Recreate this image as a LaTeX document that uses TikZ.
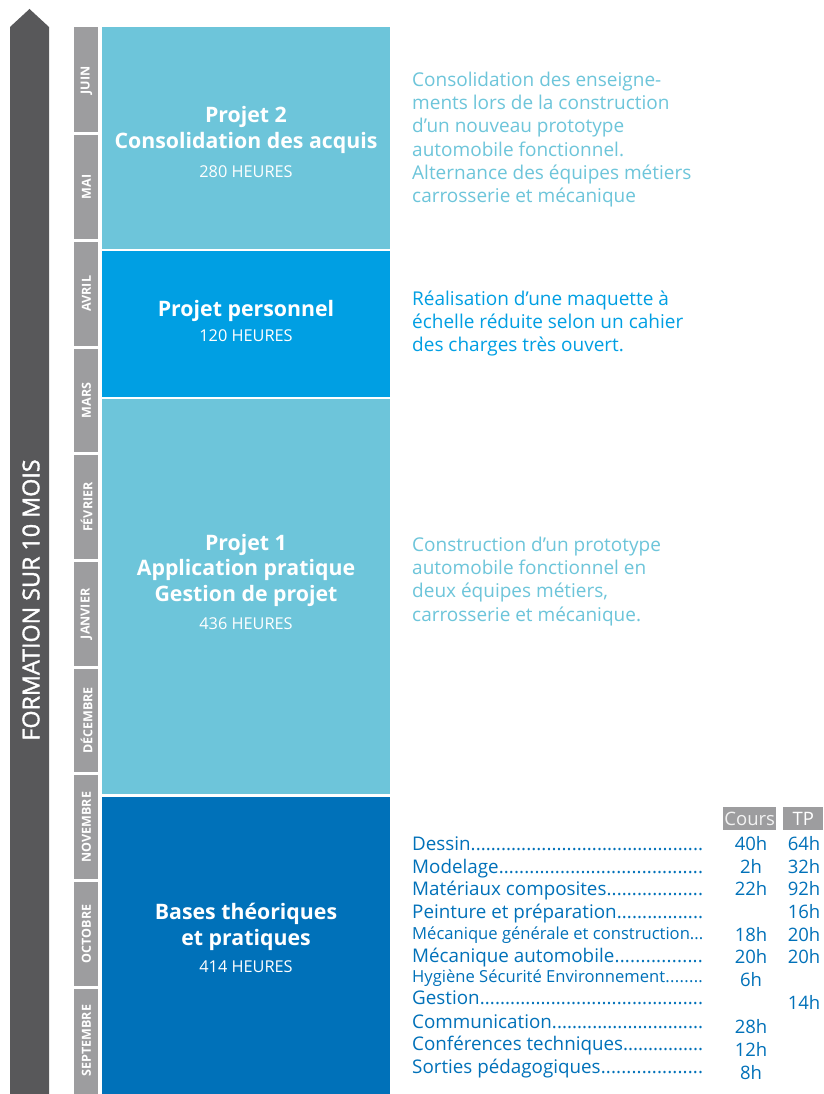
\documentclass[tikz,border=0pt]{standalone}
\usepackage{fontspec}
\usepackage{graphicx}
\setmainfont{Open Sans}
\newfontfamily\formfont[FakeBold=1.6]{Open Sans}
\definecolor{arrowgray}{HTML}{58585A}
\definecolor{monthgray}{HTML}{9D9D9F}
\definecolor{lightblue}{HTML}{6DC5DA}
\definecolor{midblue}{HTML}{009FE3}
\definecolor{darkblue}{HTML}{0071B9}
\definecolor{headtext}{HTML}{F2F2F2}
\newcommand\leaddots{\xleaders\hbox{.}\hfill}
\newcommand\rowlabel[1]{\makebox[291pt][l]{#1\leaddots}}
\newcommand\topstrut{\rule{0pt}{18pt}}
\begin{document}
\begin{tikzpicture}[x=1pt,y=-1pt,
  monthlbl/.style={rotate=90, text=white, inner sep=0, font=\fontsize{12.5}{13}\selectfont\bfseries},
  phase/.style={inner sep=0, outer sep=0, anchor=north west, minimum width=288pt},
  ttl/.style={text=white, inner sep=0, anchor=base, font=\fontsize{21.3}{24}\selectfont\bfseries},
  hrs/.style={text=white, inner sep=0, anchor=base, font=\fontsize{16.3}{18}\selectfont},
  desc/.style={anchor=north west, inner sep=0, align=left, font=\fontsize{19}{23.3}\selectfont},
  row/.style={anchor=base west, inner sep=0, text=darkblue, font=\fontsize{18.8}{20}\selectfont},
  rowsm/.style={row, font=\fontsize{16.6}{17}\selectfont},
  num/.style={anchor=base, inner sep=0, text=darkblue, font=\fontsize{18.5}{20}\selectfont},
  head/.style={fill=monthgray, inner sep=0, anchor=north west, minimum height=23pt, text=headtext, font=\fontsize{18.5}{20}\selectfont}
]
\fill[white] (0,0) rectangle (823,1094);
\useasboundingbox (0,0) rectangle (823,1094);

% timeline arrow
\fill[arrowgray] (10,1094) -- (10,27) -- (29.5,9) -- (49,27) -- (49,1094) -- cycle;
\node[rotate=90, text=white, inner sep=0, font=\formfont\fontsize{23.3}{26}\selectfont] (formation) at (31,600) {FORMATION SUR 10 MOIS};

% months
\fill[monthgray] (74,27) rectangle (98,1094);
\foreach \i in {1,...,9} {
  \draw[white, line width=3pt] (73,{27+\i*106.7}) -- (99,{27+\i*106.7});
}
\foreach \m [count=\i from 0] in {JUIN,MAI,AVRIL,MARS,FÉVRIER,JANVIER,DÉCEMBRE,NOVEMBRE,OCTOBRE,SEPTEMBRE} {
  \node[monthlbl] (m\i) at (86.5,{27+(\i+0.5)*106.7}) {\m};
}

% phase boxes
\node[phase, fill=lightblue, minimum height=222pt] (p2) at (102,27) {};
\node[phase, fill=midblue, minimum height=146pt] (pp) at (102,251) {};
\node[phase, fill=lightblue, minimum height=395pt] (p1) at (102,399) {};
\node[phase, fill=darkblue, minimum height=297pt] (pb) at (102,797) {};

% titles
\node[ttl] (p2a) at (246,122.3) {Projet 2};
\node[ttl] (p2b) at (246,148.3) {Consolidation des acquis};
\node[hrs] (p2h) at (246,177.7) {280 HEURES};

\node[ttl] (ppa) at (246,316) {Projet personnel};
\node[hrs] (pph) at (246,341.7) {120 HEURES};

\node[ttl] (p1a) at (246,550) {Projet 1};
\node[ttl] (p1b) at (246,575.5) {Application pratique};
\node[ttl] (p1c) at (246,601.5) {Gestion de projet};
\node[hrs] (p1h) at (246,629.3) {436 HEURES};

\node[ttl] (pba) at (246,919.3) {Bases théoriques};
\node[ttl] (pbb) at (246,945) {et pratiques};
\node[hrs] (pbh) at (246,972.7) {414 HEURES};

% descriptions
\node[desc, text=lightblue] (d2) at (412,{86-18}) {\topstrut Consolidation des enseigne-\\ments lors de la construction\\d’un nouveau prototype\\automobile fonctionnel.\\Alternance des équipes métiers\\carrosserie et mécanique};
\node[desc, text=midblue] (dp) at (412,{305-18}) {\topstrut Réalisation d’une maquette à\\échelle réduite selon un cahier\\des charges très ouvert.};
\node[desc, text=lightblue] (d1) at (412,{551-18}) {\topstrut Construction d’un prototype\\automobile fonctionnel en\\deux équipes métiers,\\carrosserie et mécanique.};

% table header
\node[head, minimum width=53pt] (hc) at (723,807) {Cours};
\node[head, minimum width=40pt, text=white] (ht) at (783,807) {TP};

% table rows
\node[row] (r1) at (412,850) {\rowlabel{Dessin}};
\node[row] (r2) at (412,873) {\rowlabel{Modelage}};
\node[row] (r3) at (412,895.5) {\rowlabel{Matériaux composites}};
\node[row] (r4) at (412,918) {\rowlabel{Peinture et préparation}};
\node[rowsm] (r5) at (412,939) {\rowlabel{Mécanique générale et construction}};
\node[row] (r6) at (412,962) {\rowlabel{Mécanique automobile}};
\node[rowsm] (r7) at (412,982) {\rowlabel{Hygiène Sécurité Environnement}};
\node[row] (r8) at (412,1004) {\rowlabel{Gestion}};
\node[row] (r9) at (412,1028) {\rowlabel{Communication}};
\node[row] (r10) at (412,1050.5) {\rowlabel{Conférences techniques}};
\node[row] (r11) at (412,1073) {\rowlabel{Sorties pédagogiques}};

\node[num] (c1) at (751,850) {40h};
\node[num] (c2) at (751,873) {2h};
\node[num] (c3) at (751,895.5) {22h};
\node[num] (c5) at (751,941.5) {18h};
\node[num] (c6) at (751,963.5) {20h};
\node[num] (c7) at (751,986.5) {6h};
\node[num] (c9) at (751,1033) {28h};
\node[num] (c10) at (751,1056) {12h};
\node[num] (c11) at (751,1079) {8h};

\node[num] (t1) at (804,850) {64h};
\node[num] (t2) at (804,873) {32h};
\node[num] (t3) at (804,895.5) {92h};
\node[num] (t4) at (804,918) {16h};
\node[num] (t5) at (804,941.5) {20h};
\node[num] (t6) at (804,963.5) {20h};
\node[num] (t8) at (804,1009.5) {14h};
\end{tikzpicture}
\end{document}
